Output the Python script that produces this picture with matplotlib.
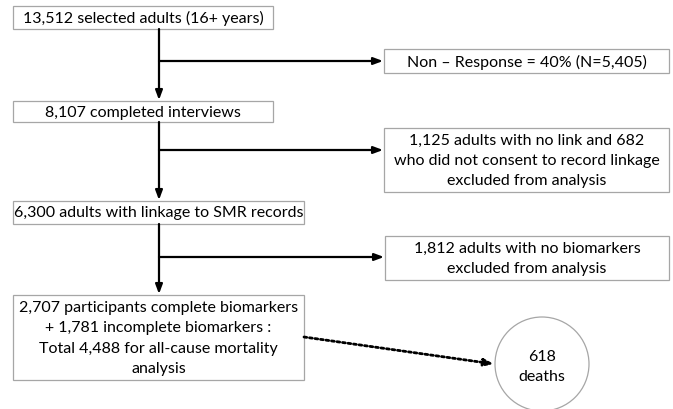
import matplotlib
matplotlib.use("Agg")
import matplotlib.pyplot as plt
from matplotlib.patches import Rectangle, Circle, FancyArrowPatch

# ---- content ----
main_texts = [
    ["13,512 selected adults (16+ years)"],
    ["8,107 completed interviews"],
    ["6,300 adults with linkage to SMR records"],
    ["2,707 participants complete biomarkers", "+ 1,781 incomplete biomarkers :",
     "Total 4,488 for all-cause mortality", "analysis"],
]
side_texts = [
    ["Non \u2013 Response = 40% (N=5,405)"],
    ["1,125 adults with no link and 682", "who did not consent to record linkage",
     "excluded from analysis"],
    ["1,812 adults with no biomarkers", "excluded from analysis"],
]
outcome_text = ["618", "deaths"]

# ---- layout (pixels, y downward) ----
W, H = 673, 410
main_boxes = [(13, 7, 273, 30), (13, 102, 273, 123), (13, 202, 304, 225), (13, 296, 304, 381)]
side_boxes = [(384, 50, 669, 74), (384, 129, 669, 193), (385, 237, 669, 281)]
branch_y = [62, 151, 258]
spine_x = 159
circle_c = (542, 365)
circle_r = 47
line_gap = 20.5

plt.rcParams['font.family'] = ['Lato', 'DejaVu Sans']
fig = plt.figure(figsize=(W / 100, H / 100), dpi=100)
ax = fig.add_axes([0, 0, 1, 1])
ax.set_xlim(0, W)
ax.set_ylim(H, 0)
ax.axis('off')

box_ec = '#a6a6a6'
txt_c = '#000000'
fs = 11.5


def draw_box(b, lines):
    x0, y0, x1, y1 = b
    ax.add_patch(Rectangle((x0, y0), x1 - x0, y1 - y0, fill=False, ec=box_ec, lw=0.9))
    cx, cy = (x0 + x1) / 2, (y0 + y1) / 2
    n = len(lines)
    for i, t in enumerate(lines):
        y = cy + (i - (n - 1) / 2) * line_gap
        ax.text(cx, y, t, ha='center', va='center', fontsize=fs, color=txt_c)


for b, t in zip(main_boxes, main_texts):
    draw_box(b, t)
for b, t in zip(side_boxes, side_texts):
    draw_box(b, t)


def arrow(p0, p1, ls='-', lw=1.6):
    a = FancyArrowPatch(p0, p1, arrowstyle='-|>,head_length=0.4,head_width=0.15',
                        mutation_scale=14, lw=lw, color='black', linestyle=ls,
                        shrinkA=0, shrinkB=0)
    ax.add_patch(a)


# main spine arrows
for i in range(3):
    arrow((spine_x, main_boxes[i][3]), (spine_x, main_boxes[i + 1][1] - 1))
# branch arrows
for y, b in zip(branch_y, side_boxes):
    arrow((spine_x, y), (b[0] - 1, y))

# dotted arrow to outcome circle
arrow((main_boxes[3][2], 338), (circle_c[0] - circle_r - 1, circle_c[1]),
      ls=(0, (1, 1)), lw=2.0)

ax.add_patch(Circle(circle_c, circle_r, fill=False, ec=box_ec, lw=0.9))
for i, t in enumerate(outcome_text):
    ax.text(circle_c[0], circle_c[1] - 8 + i * 20, t, ha='center', va='center',
            fontsize=fs, color=txt_c)

fig.savefig('out.png', dpi=100, facecolor='white')
